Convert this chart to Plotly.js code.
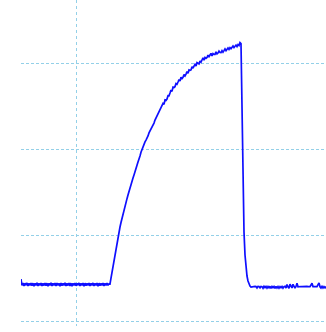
<!DOCTYPE html>
<html>
<head>
<meta charset="utf-8">
<script src="https://cdn.plot.ly/plotly-3.0.1.min.js"></script>
<style>
  html, body { margin: 0; padding: 0; background: #ffffff; }
  #chart { width: 326px; height: 332px; }
</style>
</head>
<body>
<div id="chart"></div>
<script>
// Scope capture of a single pulse, sampled every 0.01 ms starting at -0.55 ms.
var sampleStart = -0.55;
var sampleStep = 0.01;

// Idle level before the pulse (V)
var baselineBefore = [
  0.490, 0.415, 0.444, 0.410, 0.441, 0.417, 0.445, 0.409, 0.440, 0.415,
  0.444, 0.411, 0.442, 0.407, 0.441, 0.416, 0.445, 0.410, 0.440, 0.417,
  0.443, 0.409, 0.441, 0.414, 0.444, 0.411, 0.442, 0.406, 0.440, 0.416,
  0.445, 0.410, 0.441, 0.415, 0.443, 0.409, 0.442, 0.417, 0.440, 0.407,
  0.444, 0.412, 0.441, 0.416, 0.445, 0.410, 0.440, 0.414, 0.443, 0.409,
  0.442, 0.406, 0.441, 0.415, 0.444, 0.411, 0.440, 0.417, 0.445, 0.409,
  0.441, 0.415, 0.443, 0.407, 0.442, 0.413, 0.440, 0.416, 0.444, 0.410,
  0.441, 0.415, 0.445, 0.409, 0.440, 0.417, 0.443, 0.407, 0.442, 0.412,
  0.441, 0.416, 0.444, 0.410, 0.440, 0.415, 0.443, 0.417, 0.434
];

// Charging edge up to the peak (V)
var riseVolts = [
  0.432, 0.500, 0.572, 0.640, 0.712, 0.785, 0.852, 0.925, 0.992, 1.045,
  1.097, 1.150, 1.202, 1.250, 1.295, 1.340, 1.389, 1.428, 1.470, 1.515,
  1.552, 1.590, 1.622, 1.668, 1.704, 1.735, 1.774, 1.818, 1.855, 1.885,
  1.925, 1.970, 2.007, 2.025, 2.054, 2.090, 2.112, 2.130, 2.159, 2.195,
  2.217, 2.235, 2.264, 2.295, 2.310, 2.345, 2.369, 2.385, 2.415, 2.445,
  2.462, 2.480, 2.509, 2.540, 2.528, 2.580, 2.575, 2.590, 2.630, 2.628,
  2.660, 2.695, 2.680, 2.730, 2.725, 2.735, 2.770, 2.763, 2.789, 2.818,
  2.800, 2.845, 2.830, 2.845, 2.875, 2.860, 2.882, 2.910, 2.890, 2.930,
  2.925, 2.930, 2.967, 2.950, 2.975, 2.995, 2.975, 3.015, 3.008, 3.000,
  3.035, 3.020, 3.046, 3.070, 3.045, 3.075, 3.064, 3.075, 3.103, 3.085,
  3.104, 3.123, 3.093, 3.120, 3.111, 3.112, 3.140, 3.117, 3.127, 3.150,
  3.134, 3.133, 3.155, 3.137, 3.155, 3.175, 3.155, 3.172, 3.187, 3.170,
  3.190, 3.178, 3.192, 3.210, 3.192, 3.203, 3.220, 3.203, 3.225, 3.215,
  3.250, 3.238
];

// Discharge edge (V)
var fallVolts = [2.345, 1.470, 1.039, 0.770, 0.618, 0.525, 0.467, 0.432, 0.408, 0.397];

// Idle level after the pulse (V)
var baselineAfter = [
  0.400, 0.403, 0.400, 0.405, 0.402, 0.385, 0.404, 0.402, 0.388, 0.404,
  0.401, 0.383, 0.405, 0.390, 0.404, 0.384, 0.402, 0.387, 0.405, 0.382,
  0.404, 0.390, 0.403, 0.381, 0.405, 0.386, 0.403, 0.384, 0.402, 0.389,
  0.404, 0.383, 0.401, 0.405, 0.385, 0.425, 0.400, 0.383, 0.430, 0.398,
  0.386, 0.428, 0.401, 0.384, 0.403, 0.440, 0.400, 0.403, 0.401, 0.403,
  0.402, 0.404, 0.401, 0.403, 0.402, 0.404, 0.402, 0.403, 0.401, 0.420,
  0.442, 0.402, 0.403, 0.401, 0.404, 0.402, 0.425, 0.443, 0.400, 0.386,
  0.404, 0.385, 0.402, 0.388, 0.403
];

var volts = baselineBefore.concat(riseVolts, fallVolts, baselineAfter);

var gridStyle = {
  showgrid: true,
  gridcolor: '#93d0e8',
  gridwidth: 1,
  zeroline: false,
  showline: false,
  ticks: '',
  showticklabels: false
};

var trace = {
  type: 'scatter',
  mode: 'lines',
  y: volts,
  x0: sampleStart,
  dx: sampleStep,
  line: { color: '#0f0fff', width: 1.7 },
  hoverinfo: 'skip'
};

var layout = {
  width: 326,
  height: 332,
  margin: { l: 21, r: 0, t: 0, b: 6, pad: 0 },
  paper_bgcolor: '#ffffff',
  plot_bgcolor: '#ffffff',
  showlegend: false
};

layout.xaxis = Object.assign({}, gridStyle, {
  griddash: '3px,3px',
  range: [-0.55, 2.50],
  tick0: 0,
  dtick: 10
});
layout.yaxis = Object.assign({}, gridStyle, {
  griddash: '3px,2px',
  range: [-0.058, 3.746],
  tick0: 0,
  dtick: 1
});

Plotly.newPlot('chart', [trace], layout, { staticPlot: true, displayModeBar: false });
</script>
</body>
</html>
